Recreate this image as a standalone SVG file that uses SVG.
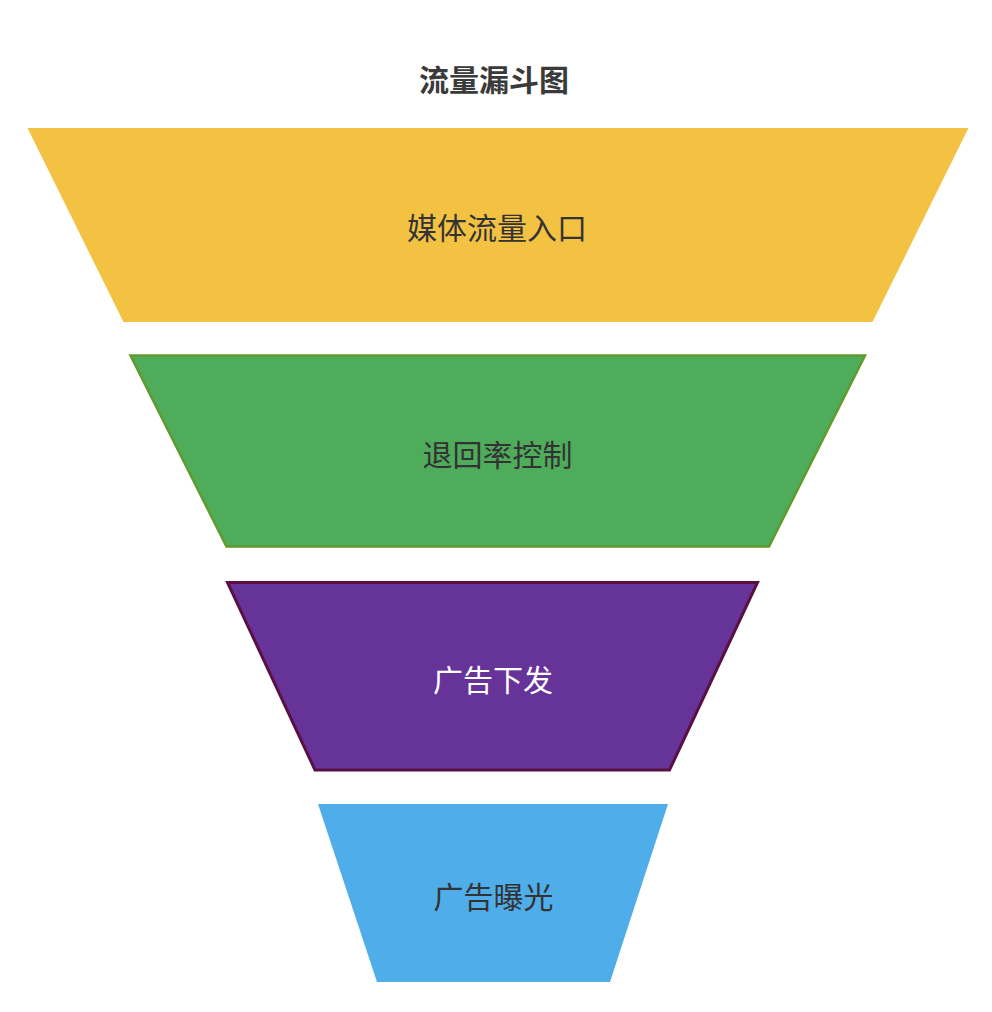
<svg xmlns="http://www.w3.org/2000/svg" width="992" height="1012" viewBox="0 0 992 1012">
  <style>
    text { font-family: "Noto Sans CJK SC", "Noto Sans", sans-serif; text-anchor: middle; dominant-baseline: central; }
    .title { font-size: 30px; font-weight: bold; fill: #3a3a3a; }
    .label { font-size: 30px; fill: #333333; }
    .light { fill: #ffffff; }
  </style>
  <rect width="992" height="1012" fill="#ffffff"/>
  <text class="title" x="494" y="78">流量漏斗图</text>
  <g id="node-1">
    <polygon points="27.5,128 968.5,128 872.5,322 123.5,322" fill="#F4C243"/>
    <text class="label" x="497" y="226">媒体流量入口</text>
  </g>
  <g id="node-2">
    <polygon points="130.5,355.5 865,355.5 769,546.5 226.5,546.5" fill="#4EAC5B" stroke="#5F9B2C" stroke-width="2.5" stroke-linejoin="miter"/>
    <text class="label" x="497.5" y="453">退回率控制</text>
  </g>
  <g id="node-3">
    <polygon points="227.5,582.5 757.5,582.5 669.5,770 315,770" fill="#663399" stroke="#5A1042" stroke-width="3"/>
    <text class="label light" x="493" y="678">广告下发</text>
  </g>
  <g id="node-4">
    <polygon points="318,804 668,804 610,982 377,982" fill="#4FADEA"/>
    <text class="label" x="493.5" y="895">广告曝光</text>
  </g>
  <g id="connectors"></g>
</svg>
